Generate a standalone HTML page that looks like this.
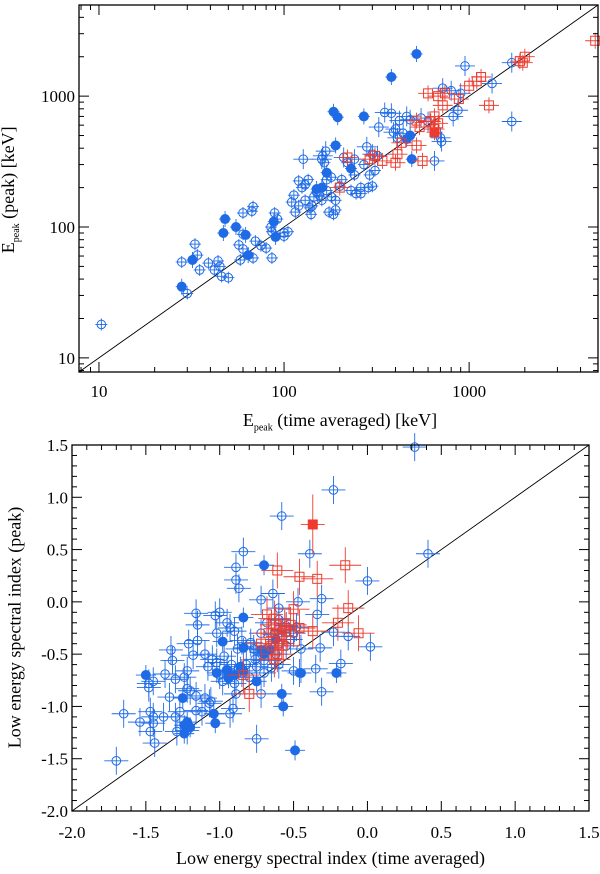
<!DOCTYPE html>
<html><head><meta charset="utf-8"><style>
html,body{margin:0;padding:0;background:#fff;}
svg{display:block;font-family:"Liberation Serif",serif;}
</style></head><body>
<svg id="c" width="600" height="874" viewBox="0 0 600 874"></svg>
<script>
// ---------- Top panel data: Epeak (time averaged) vs Epeak (peak), keV ----------
const topOpenX=[10.3,30,28,33,34,35,39,42,44,45,46,50,57,58,60,60,60,67,68,68,70,75,80,86,85,86,89,92,100,100,105,110,113,115,120,120,125,127,130,130,135,138,140,142,145,150,155,160,160,162,165,168,170,175,180,185,190,190,200,205,210,220,230,240,245,260,270,280,285,290,300,310,320,325,350,380,390,400,410,420,440,460,480,550,600,650,700,710,720,800,820,870,900,950,1330,1700,1700,180,240,170,260,300];
const topOpenY=[18,31,54,74,61,47,53,47,55,50,42,41,73,56,88,68,128,132,143,58,78,72,69,58,100,92,128,115,90,85,92,155,175,130,145,225,200,330,160,210,230,140,125,145,170,185,175,160,330,350,310,380,230,130,240,125,160,135,205,230,340,310,190,250,180,200,300,410,200,250,205,270,350,580,750,740,530,560,480,650,520,700,660,680,640,320,480,450,1150,1100,700,780,1050,1700,1250,640,1800,170,330,190,180,360];
const topFillX=[28,32,47,48,55,62,64,88,90,185,195,190,270,380,520,170,160,150,230,480,490,460];
const topFillY=[35,56,90,115,100,87,61,110,84,760,690,420,700,1400,2100,260,200,195,280,500,330,470];
const topSqX=[600,680,740,720,880,1000,1100,1160,1280,1880,2000,1950,4800,520,540,620,680,650,430,520,410,560,400,340,310,290,220,200,650];
const topSqY=[1050,1000,1050,850,950,1200,1300,1400,850,1850,2000,1800,2650,650,580,640,620,700,440,420,360,320,310,320,350,330,340,200,560];
const topSqFillX=[650];
const topSqFillY=[530];
const topXTicks=[10,100,1000];
const topYTicks=[10,100,1000];

// ---------- Bottom panel data: low energy spectral index ----------
const botOpenX=[0.32,-0.23,-0.58,0.41,-0.39,-0.84,-0.89,-0.89,-0.87,0.0,-0.72,-0.64,-0.31,-0.47,-0.34,-0.6,-1.0,-1.03,-1.16,-1.15,-0.95,-0.93,-0.9,-1.02,-1.15,-1.21,-1.33,-1.32,-1.18,-1.1,-1.05,-0.97,-0.85,-0.79,-0.76,-0.23,-0.13,0.02,-0.32,-0.18,-0.35,-0.5,-0.46,-1.22,-1.24,-1.37,-1.3,-1.2,-1.22,-1.34,-1.45,-1.48,-1.48,-1.16,-1.1,-1.06,-1.07,-1.16,-1.12,-1.47,-1.45,-1.38,-1.3,-1.27,-1.54,-1.45,-1.47,-1.44,-1.65,-1.7,-1.29,-1.22,-0.75,-0.93,-0.91,-0.72,-0.31,-0.89,-0.98,-1.0,-0.9,-0.85,-0.8,-0.7,-0.65,-0.6,-0.72,-0.67,-0.6,-0.55,-0.5,-0.55,-0.6,-0.68,-0.72,-0.77,-0.92,-0.95,-1.02,-1.08,-0.88,-0.63,-0.58,-0.52,-0.48,-0.45,-0.7,-0.62,-0.82,-0.75];
const botOpenY=[1.48,1.07,0.82,0.46,0.46,0.48,0.33,0.21,0.13,0.2,0.02,0.08,0.03,0.0,-0.12,-0.06,-0.1,-0.13,-0.11,-0.22,-0.2,-0.25,-0.28,-0.3,-0.37,-0.4,-0.46,-0.56,-0.51,-0.5,-0.55,-0.52,-0.37,-0.39,-0.55,-0.29,-0.33,-0.43,-0.44,-0.59,-0.64,-0.66,-0.68,-0.66,-0.72,-0.69,-0.74,-0.85,-0.83,-0.91,-0.76,-0.78,-0.82,-0.9,-0.92,-0.95,-0.97,-1.04,-1.05,-1.05,-1.1,-1.1,-1.1,-1.05,-1.15,-1.16,-1.24,-1.35,-1.07,-1.52,-1.24,-1.23,-1.31,-1.07,-1.02,-0.88,-0.86,-0.88,-0.76,-0.7,-0.78,-0.68,-0.72,-0.68,-0.63,-0.6,-0.48,-0.44,-0.4,-0.42,-0.3,-0.23,-0.17,-0.2,-0.3,-0.45,-0.6,-0.66,-0.58,-0.62,-0.45,-0.31,-0.27,-0.36,-0.24,-0.45,-0.56,-0.5,-0.6,-0.62];
const botFillX=[-0.7,-0.84,-0.98,-0.84,-0.72,-0.95,-0.9,-0.94,-1.02,-0.84,-0.86,-1.5,-1.25,-1.04,-1.03,-1.24,-1.22,-1.2,-1.24,-0.75,-0.58,-0.57,-0.45,-0.21,-0.49,-0.62,-0.7,-0.66];
const botFillY=[0.35,-0.15,-0.38,-0.44,-0.46,-0.65,-0.7,-0.73,-0.68,-0.66,-0.62,-0.7,-0.92,-1.07,-1.16,-1.18,-1.15,-1.2,-1.26,-0.76,-0.88,-1.0,-0.68,-0.68,-1.42,-0.36,-0.5,-0.46];
const botSqX=[-0.61,-0.46,-0.34,-0.15,-0.13,-0.2,-0.06,-0.37,-0.46,-0.56,-0.68,-0.63,-0.62,-0.67,-0.58,-0.55,-0.52,-0.6,-0.65,-0.57,-0.61,-0.63,-0.84,-0.8,-0.72,-0.5];
const botSqY=[0.3,0.24,0.22,0.35,-0.06,-0.2,-0.3,-0.28,-0.25,-0.25,-0.12,-0.16,-0.22,-0.3,-0.33,-0.28,-0.22,-0.4,-0.42,-0.42,-0.5,-0.55,-0.7,-0.88,-0.4,-0.07];
const botSqFillX=[-0.37];
const botSqFillY=[0.74];
const botTicks=[-2.0,-1.5,-1.0,-0.5,0.0,0.5,1.0,1.5];

// ---------- drawing ----------
const NS="http://www.w3.org/2000/svg";
const svg=document.getElementById('c');
const BLUE="#1f6be6", RED="#ee3b2e";
function mk(tag,attrs,parent){const e=document.createElementNS(NS,tag);for(const k in attrs)e.setAttribute(k,attrs[k]);(parent||svg).appendChild(e);return e;}

// Top axes
const T={l:79,r:598,t:5,b:372,lmin:Math.log10(7.8),lmax:Math.log10(4970)};
const tx=v=>T.l+(Math.log10(v)-T.lmin)/(T.lmax-T.lmin)*(T.r-T.l);
const ty=v=>T.b-(Math.log10(v)-T.lmin)/(T.lmax-T.lmin)*(T.b-T.t);
// Bottom axes
const B={l:72,r:589,t:445,b:811,min:-2,max:1.5};
const bx=v=>B.l+(v-B.min)/(B.max-B.min)*(B.r-B.l);
const by=v=>B.b-(v-B.min)/(B.max-B.min)*(B.b-B.t);

function group(name){const g=mk('g',{});return g;}

function marker(g,px,py,kind,col,ex,ey){
  // error bars
  mk('line',{x1:px-ex,y1:py,x2:px+ex,y2:py,stroke:col,'stroke-width':0.9},g);
  mk('line',{x1:px,y1:py-ey,x2:px,y2:py+ey,stroke:col,'stroke-width':0.9},g);
  if(kind==='o'){mk('circle',{cx:px,cy:py,r:4.3,fill:'none',stroke:col,'stroke-width':1},g);}
  else if(kind==='f'){mk('circle',{cx:px,cy:py,r:4.5,fill:col,stroke:col},g);}
  else if(kind==='s'){mk('rect',{x:px-4.5,y:py-4.5,width:9,height:9,fill:'none',stroke:col,'stroke-width':1},g);}
  else {mk('rect',{x:px-4.5,y:py-4.5,width:9,height:9,fill:col,stroke:col},g);}
}

function frame(X,name){
  const f=mk('rect',{x:X.l,y:X.t,width:X.r-X.l,height:X.b-X.t,fill:'none',stroke:'#000','stroke-width':1.3});
  
}

// ---- Top panel ----
const gTop=group('top-panel');
// diagonal
mk('line',{x1:tx(7.8),y1:ty(7.8),x2:tx(4970),y2:ty(4970),stroke:'#000','stroke-width':0.9},gTop);
const gTO=group('top-open-circles');
topOpenX.forEach((v,i)=>{const e=Math.abs(Math.log10(topOpenY[i]))>2.5?10:6;marker(gTO,tx(v),ty(topOpenY[i]),'o',BLUE,e,e);});
const gTF=group('top-filled-circles');
topFillX.forEach((v,i)=>marker(gTF,tx(v),ty(topFillY[i]),'f',BLUE,6,8));
const gTS=group('top-red-squares');
topSqX.forEach((v,i)=>marker(gTS,tx(v),ty(topSqY[i]),'s',RED,10,8));
const gTSF=group('top-red-filled-squares');
topSqFillX.forEach((v,i)=>marker(gTSF,tx(v),ty(topSqFillY[i]),'S',RED,8,8));
frame(T,'top-plot-frame');
// log ticks
const gTT=group('top-ticks');
for(let d=1;d<=1000;d*=10){for(let m=1;m<=9;m++){const v=d*m;if(v<7.8||v>4970)continue;const L=m===1?10:5;
  const x=tx(v);mk('line',{x1:x,y1:T.b,x2:x,y2:T.b-L,stroke:'#000'},gTT);mk('line',{x1:x,y1:T.t,x2:x,y2:T.t+L,stroke:'#000'},gTT);
  const y=ty(v);mk('line',{x1:T.l,y1:y,x2:T.l+L,y2:y,stroke:'#000'},gTT);mk('line',{x1:T.r,y1:y,x2:T.r-L,y2:y,stroke:'#000'},gTT);}}
topXTicks.forEach(v=>{const t=mk('text',{x:tx(v),y:T.b+25,'font-size':17,'text-anchor':'middle'});t.textContent=String(v);
});
topYTicks.forEach(v=>{const t=mk('text',{x:T.l-4,y:ty(v)+6,'font-size':17,'text-anchor':'end'});t.textContent=String(v);
});

// ---- Bottom panel ----
const gBot=group('bottom-panel');
mk('line',{x1:bx(-2),y1:by(-2),x2:bx(1.5),y2:by(1.5),stroke:'#000','stroke-width':0.9},gBot);
const gBO=group('bottom-open-circles');
botOpenX.forEach((v,i)=>marker(gBO,bx(v),by(botOpenY[i]),'o',BLUE,12,14));
const gBF=group('bottom-filled-circles');
botFillX.forEach((v,i)=>marker(gBF,bx(v),by(botFillY[i]),'f',BLUE,10,10));
const gBS=group('bottom-red-squares');
botSqX.forEach((v,i)=>marker(gBS,bx(v),by(botSqY[i]),'s',RED,16,18));
const gBSF=group('bottom-red-filled-squares');
botSqFillX.forEach((v,i)=>marker(gBSF,bx(v),by(botSqFillY[i]),'S',RED,12,30));
frame(B,'bottom-plot-frame');
const gBT=group('bottom-ticks');
for(let k=0;k<=35;k++){const v=-2+k*0.1;const L=(k%5===0)?10:5;
  const x=bx(v);mk('line',{x1:x,y1:B.b,x2:x,y2:B.b-L,stroke:'#000'},gBT);mk('line',{x1:x,y1:B.t,x2:x,y2:B.t+L,stroke:'#000'},gBT);
  const y=by(v);mk('line',{x1:B.l,y1:y,x2:B.l+L,y2:y,stroke:'#000'},gBT);mk('line',{x1:B.r,y1:y,x2:B.r-L,y2:y,stroke:'#000'},gBT);}
botTicks.forEach(v=>{const t=mk('text',{x:bx(v),y:B.b+27,'font-size':17,'text-anchor':'middle'});t.textContent=v.toFixed(1);

const u=mk('text',{x:B.l-4,y:by(v)+6,'font-size':17,'text-anchor':'end'});u.textContent=v.toFixed(1);
});
</script>
<svg width="0" height="0"></svg>
<div style="position:absolute;left:0;top:0;width:600px;height:874px;pointer-events:none;font-family:'Liberation Serif',serif;">
  <div style="position:absolute;left:0;width:600px;top:410px;text-align:center;font-size:18px;padding-left:80px;box-sizing:border-box;">E<sub style="font-size:10px">peak</sub> (time averaged) [keV]</div>
  <div style="position:absolute;left:-90px;top:178px;width:200px;text-align:center;font-size:18px;transform:rotate(-90deg);white-space:nowrap;">E<sub style="font-size:10px">peak</sub> (peak) [keV]</div>
  <div style="position:absolute;left:72px;width:517px;top:848px;text-align:center;font-size:18px;">Low energy spectral index (time averaged)</div>
  <div style="position:absolute;left:-125px;top:617px;width:280px;text-align:center;font-size:18px;transform:rotate(-90deg);white-space:nowrap;">Low energy spectral index (peak)</div>
</div>
</body></html>
